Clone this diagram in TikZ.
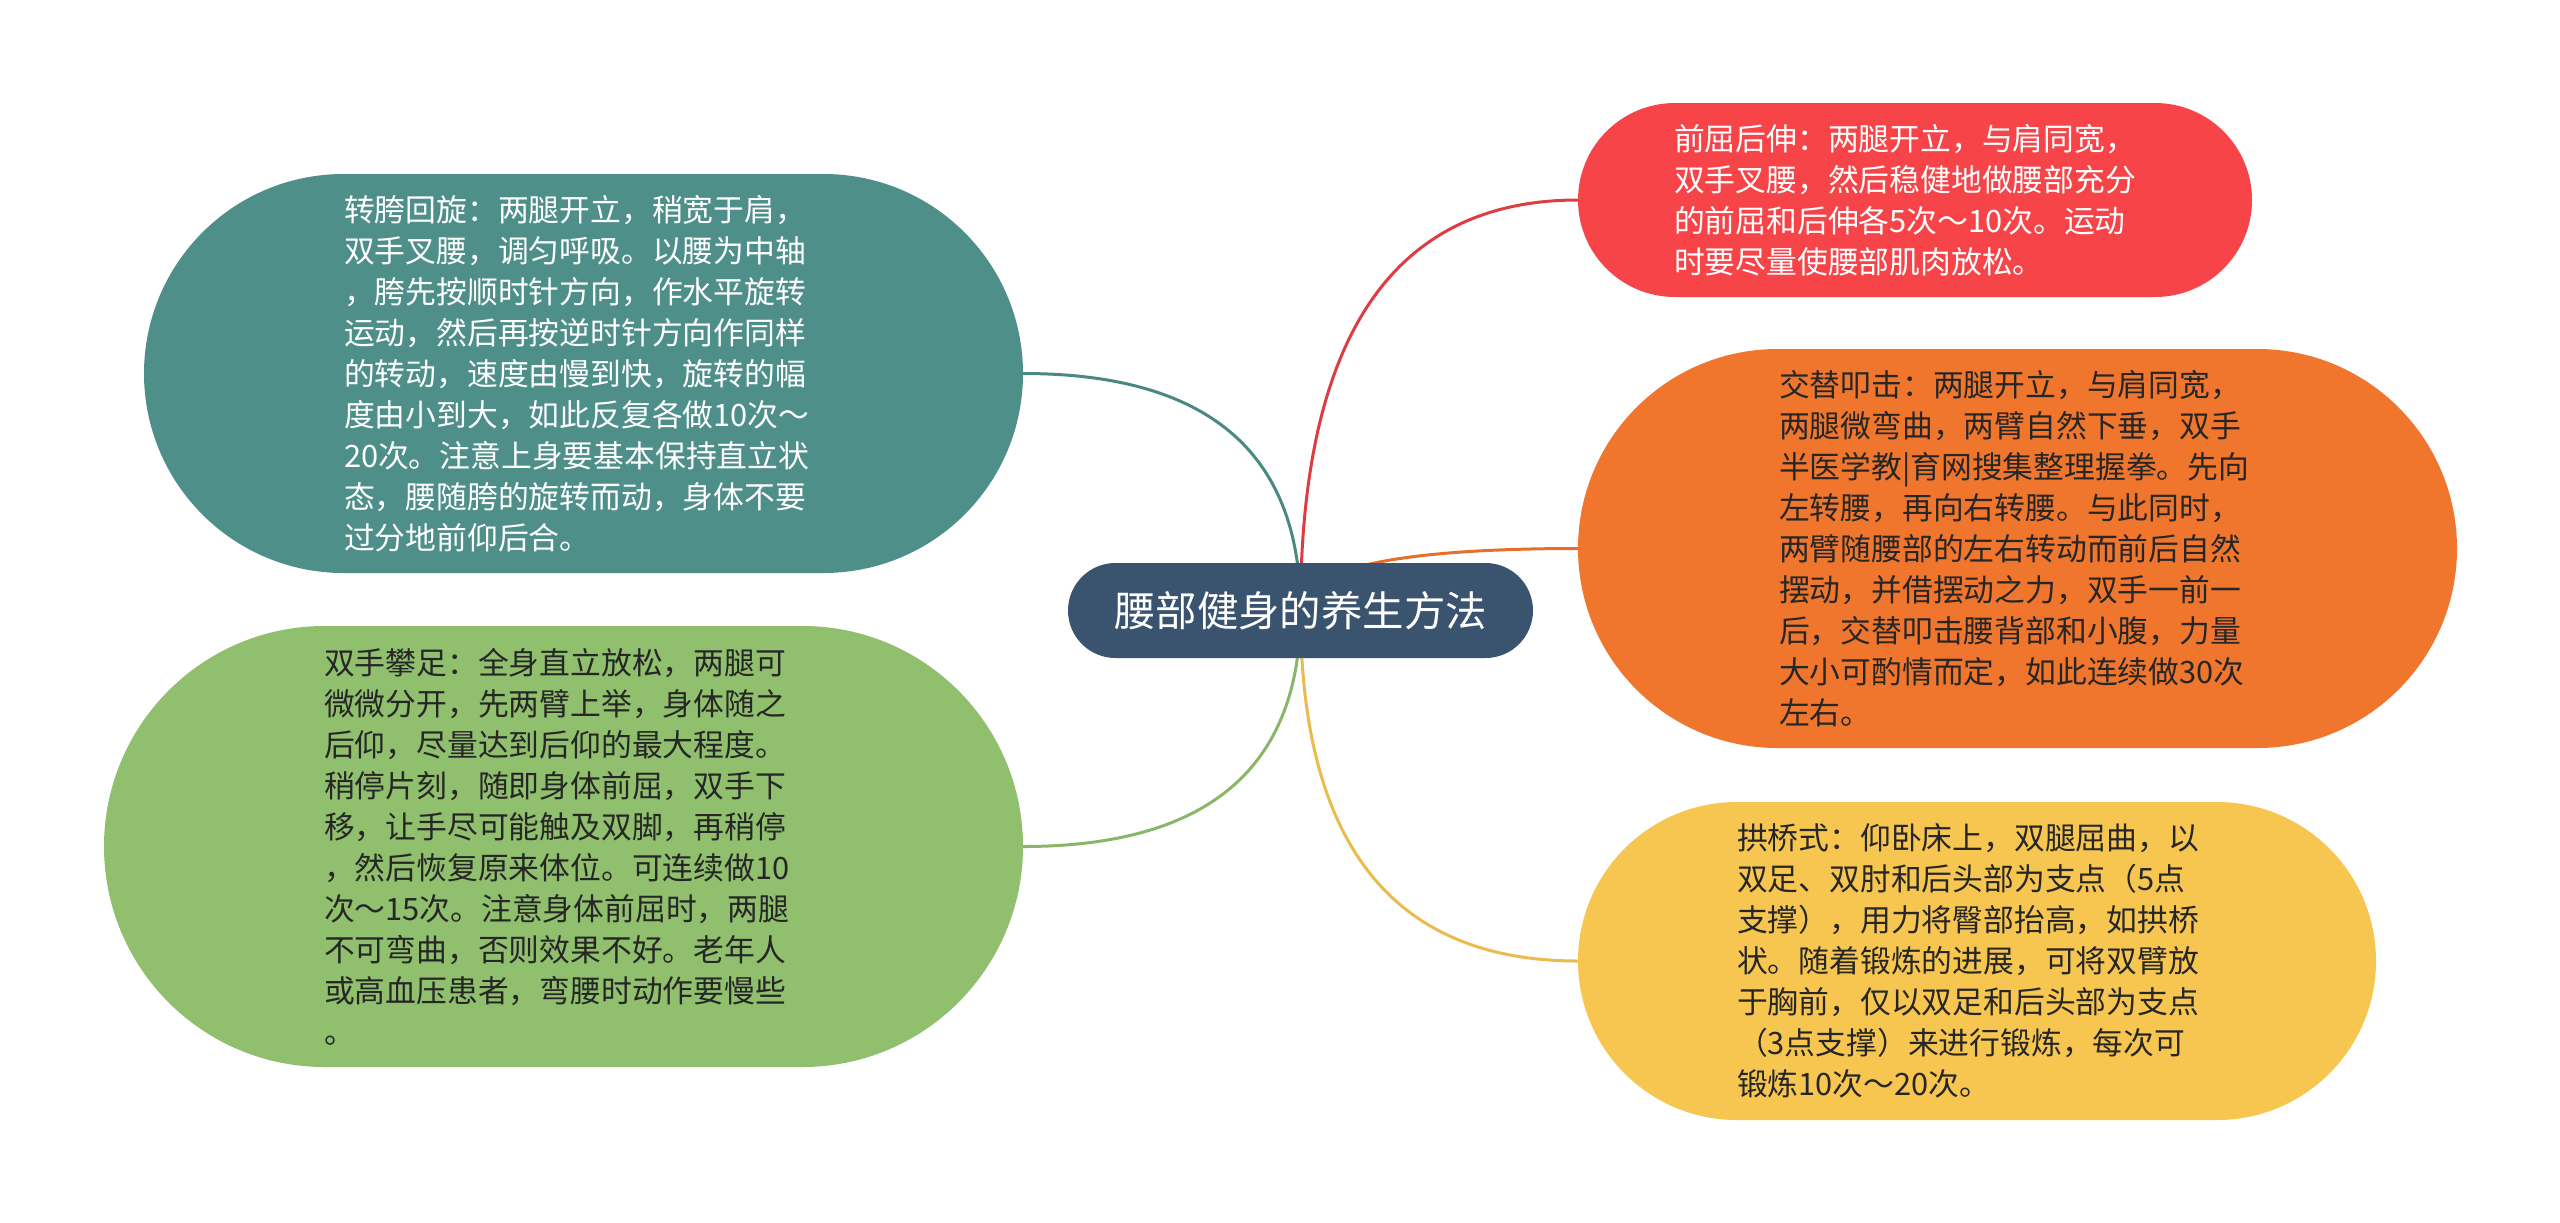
\documentclass[tikz,border=0pt]{standalone}
\usepackage{fontspec}
\newfontfamily\cjk{Noto Sans CJK SC}
\usetikzlibrary{backgrounds,calc}
\definecolor{rootc}{HTML}{3A5470}
\definecolor{tealc}{HTML}{4E8F8A}
\definecolor{greenc}{HTML}{90BF6E}
\definecolor{redc}{HTML}{F64449}
\definecolor{orangec}{HTML}{F1762D}
\definecolor{yellowc}{HTML}{F7C651}
\definecolor{darktxt}{HTML}{262626}
\begin{document}
\begin{tikzpicture}[x=0.5pt,y=-0.5pt,
  blob/.style={rectangle, inner sep=0pt, outer sep=0pt, draw=none},
  txt/.style={inner sep=0pt, outer sep=0pt, align=left, anchor=west,
    font=\cjk\fontsize{15.4pt}{20.5pt}\selectfont},
  link/.style={line width=1.5pt}]
\useasboundingbox (0,0) rectangle (2560,1222);

% root
\node[blob, fill=rootc, minimum width=232.5pt, minimum height=47.5pt,
  rounded corners=23.75pt, text=white,
  font=\cjk\fontsize{20.7pt}{24pt}\selectfont] (root) at (1300.5,610.5) {腰部健身的养生方法};

% left children
\node[blob, fill=tealc, minimum width=439.5pt, minimum height=199.5pt,
  rounded corners=99.75pt] (teal) at (583.5,373.5) {};
\node[txt, text=white] (tealtext) at (344,373.5) {转胯回旋：两腿开立，稍宽于肩，\\双手叉腰，调匀呼吸。以腰为中轴\\，胯先按顺时针方向，作水平旋转\\运动，然后再按逆时针方向作同样\\的转动，速度由慢到快，旋转的幅\\度由小到大，如此反复各做10次～\\20次。注意上身要基本保持直立状\\态，腰随胯的旋转而动，身体不要\\过分地前仰后合。};

\node[blob, fill=greenc, minimum width=459.5pt, minimum height=220.5pt,
  rounded corners=110.25pt] (green) at (563.5,846.5) {};
\node[txt, text=darktxt] (greentext) at (324,846.5) {双手攀足：全身直立放松，两腿可\\微微分开，先两臂上举，身体随之\\后仰，尽量达到后仰的最大程度。\\稍停片刻，随即身体前屈，双手下\\移，让手尽可能触及双脚，再稍停\\，然后恢复原来体位。可连续做10\\次～15次。注意身体前屈时，两腿\\不可弯曲，否则效果不好。老年人\\或高血压患者，弯腰时动作要慢些\\。};

% right children
\node[blob, fill=redc, minimum width=337pt, minimum height=97pt,
  rounded corners=48.5pt] (red) at (1915,200) {};
\node[txt, text=white] (redtext) at (1674,200) {前屈后伸：两腿开立，与肩同宽，\\双手叉腰，然后稳健地做腰部充分\\的前屈和后伸各5次～10次。运动\\时要尽量使腰部肌肉放松。};

\node[blob, fill=orangec, minimum width=439.5pt, minimum height=199.5pt,
  rounded corners=99.75pt] (orange) at (2017.5,548.5) {};
\node[txt, text=darktxt] (orangetext) at (1779,548.5) {交替叩击：两腿开立，与肩同宽，\\两腿微弯曲，两臂自然下垂，双手\\半医学教|育网搜集整理握拳。先向\\左转腰，再向右转腰。与此同时，\\两臂随腰部的左右转动而前后自然\\摆动，并借摆动之力，双手一前一\\后，交替叩击腰背部和小腹，力量\\大小可酌情而定，如此连续做30次\\左右。};

\node[blob, fill=yellowc, minimum width=399pt, minimum height=159pt,
  rounded corners=79.5pt] (yellow) at (1977,961) {};
\node[txt, text=darktxt] (yellowtext) at (1737,961) {拱桥式：仰卧床上，双腿屈曲，以\\双足、双肘和后头部为支点（5点\\支撑），用力将臀部抬高，如拱桥\\状。随着锻炼的进展，可将双臂放\\于胸前，仅以双足和后头部为支点\\（3点支撑）来进行锻炼，每次可\\锻炼10次～20次。};

% connectors behind
\begin{scope}[on background layer]
\fill[white] (0,0) rectangle (2560,1222);
\coordinate (qT) at (root.center |- teal.east);
\coordinate (qG) at (root.center |- green.east);
\coordinate (qR) at (root.center |- red.west);
\coordinate (qO) at (root.center |- orange.west);
\coordinate (qY) at (root.center |- yellow.west);
\draw[link, tealc!95!black] (root.center) .. controls ($(root.center)!2/3!(qT)$) and ($(teal.east)!2/3!(qT)$) .. (teal.east);
\draw[link, greenc!95!black] (root.center) .. controls ($(root.center)!2/3!(qG)$) and ($(green.east)!2/3!(qG)$) .. (green.east);
\draw[link, redc!90!black] (root.center) .. controls ($(root.center)!2/3!(qR)$) and ($(red.west)!2/3!(qR)$) .. (red.west);
\draw[link, orangec!95!black] (root.center) .. controls ($(root.center)!2/3!(qO)$) and ($(orange.west)!2/3!(qO)$) .. (orange.west);
\draw[link, yellowc!95!black] (root.center) .. controls ($(root.center)!2/3!(qY)$) and ($(yellow.west)!2/3!(qY)$) .. (yellow.west);
\end{scope}
\end{tikzpicture}
\end{document}
